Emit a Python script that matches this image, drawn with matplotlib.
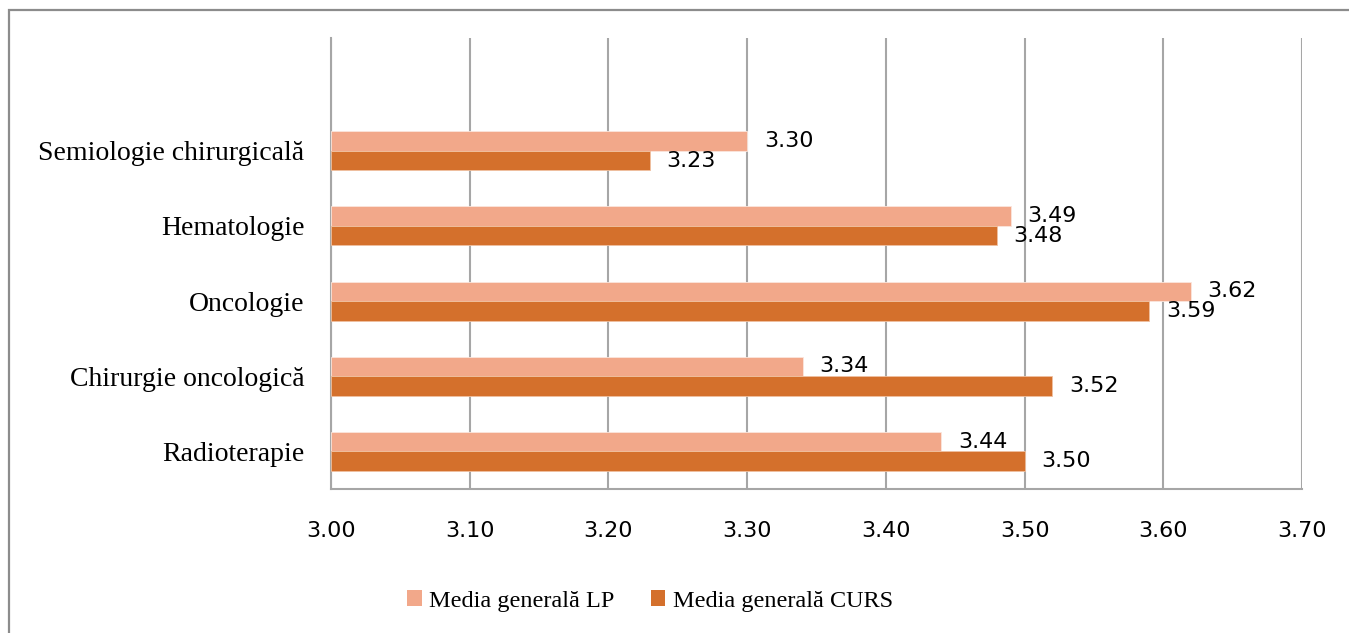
import matplotlib
matplotlib.use("Agg")
import matplotlib.pyplot as plt
from matplotlib.patches import Rectangle, Patch

categories = ["Radioterapie", "Chirurgie oncologică", "Oncologie", "Hematologie", "Semiologie chirurgicală"]
lp_values = [3.44, 3.34, 3.62, 3.49, 3.30]
curs_values = [3.50, 3.52, 3.59, 3.48, 3.23]
series_names = ["Media generală LP", "Media generală CURS"]
xticks = [3.00, 3.10, 3.20, 3.30, 3.40, 3.50, 3.60, 3.70]

W, H = 1349, 633
fig = plt.figure(figsize=(W / 100, H / 100), dpi=100)
fig.patch.set_facecolor("white")

# outer frame
fig.patches.append(Rectangle((9 / W, -0.1), 1.2, (H - 10) / H + 0.1, transform=fig.transFigure,
                             fill=False, edgecolor="#8c8c8c", linewidth=1.6, clip_on=False))

ax = fig.add_axes([331 / W, (H - 489) / H, (1302 - 331) / W, (489 - 38) / H])

c_lp = "#F2A88A"
c_curs = "#D4702C"
bh = 0.26
ypos = list(range(len(categories)))
ax.barh([y + bh / 2 for y in ypos], [v - 3.0 for v in lp_values], left=3.0, height=bh,
        color=c_lp, edgecolor="#fbe6dc", linewidth=0.6, zorder=3)
ax.barh([y - bh / 2 for y in ypos], [v - 3.0 for v in curs_values], left=3.0, height=bh,
        color=c_curs, edgecolor="#f0c0a0", linewidth=0.6, zorder=3)

for y, v in zip(ypos, lp_values):
    ax.annotate(f"{v:.2f}", (v, y + bh / 2), xytext=(12, 0), textcoords="offset points",
                va="center", ha="left", fontsize=16, family="DejaVu Sans", color="black")
for y, v in zip(ypos, curs_values):
    ax.annotate(f"{v:.2f}", (v, y - bh / 2), xytext=(12, 0), textcoords="offset points",
                va="center", ha="left", fontsize=16, family="DejaVu Sans", color="black")

ax.set_xlim(3.0, 3.7)
ax.set_ylim(-0.5, 5.5)
ax.set_xticks(xticks)
ax.set_xticklabels([f"{t:.2f}" for t in xticks], fontsize=16, family="DejaVu Sans")
ax.set_yticks(ypos)
ax.set_yticklabels(categories, fontsize=20, family="Liberation Serif")
ax.tick_params(axis="x", length=0, pad=23)
ax.tick_params(axis="y", length=0, pad=19)
ax.grid(axis="x", color="#a6a6a6", linewidth=1.5, zorder=0)
ax.set_axisbelow(True)
for s in ["top", "right"]:
    ax.spines[s].set_visible(False)
for s in ["left", "bottom"]:
    ax.spines[s].set_color("#a6a6a6")
    ax.spines[s].set_linewidth(1.5)

handles = [Patch(facecolor=c_lp, edgecolor="none"), Patch(facecolor=c_curs, edgecolor="none")]
fig.legend(handles, series_names, loc="center", bbox_to_anchor=(650 / W, 1 - 601 / H), ncol=2,
           frameon=False, prop={"family": "Liberation Serif", "size": 17.5},
           handlelength=0.6, handleheight=0.6, handletextpad=0.3, columnspacing=1.5)

fig.savefig("out.png", dpi=100, facecolor="white")
